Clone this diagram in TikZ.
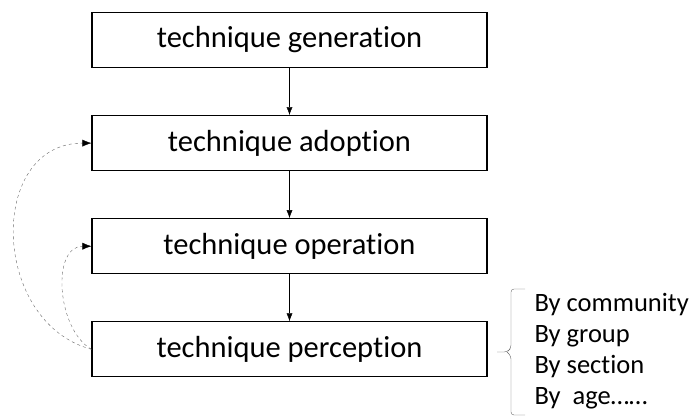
\documentclass[tikz,border=0pt]{standalone}
\usepackage{fontspec}
\setmainfont[Ligatures=NoCommon]{Carlito}
\usetikzlibrary{positioning,arrows.meta}
\tikzset{stagebox/.style={draw,line width=1.1pt,minimum width=395pt,minimum height=55pt,font=\fontsize{30.5}{33}\selectfont},
         flow/.style={-{Latex[length=8pt,width=6pt]},thin},
         feedback/.style={-{Latex[length=9pt,width=7pt,black]},dashed,gray!80!black,thin},
         bracket/.style={gray!80!black,thin,rounded corners=3pt}}

\begin{document}
\begin{tikzpicture}[x=1pt,y=1pt,node distance=47pt]
    \useasboundingbox (0,0) rectangle (692,-416);
    \node[stagebox] (gen) at (289.5,-40) {technique generation};
    \node[stagebox,below=of gen] (adopt) {technique adoption};
    \node[stagebox,below=of adopt] (oper) {technique operation};
    \node[stagebox,below=of oper] (perc) {technique perception};

    \draw[flow] (gen) -- (adopt);
    \draw[flow] (adopt) -- (oper);
    \draw[flow] (oper) -- (perc);

    % feedback loops
    \draw[feedback] (perc.west) to[out=165,in=180,looseness=1.3] (adopt.west);
    \draw[feedback] (perc.west) to[out=150,in=180,looseness=1.0] (oper.west);

    % grouping list
    \node[anchor=west,align=left,font=\fontsize{26.5}{31}\selectfont] (groups) at (531,-351.5)
        {By community\\By group\\By section\\By\ \ age……};
    \coordinate (bracetop) at (525,-289);
    \coordinate (bracebot) at (525,-415);
    \coordinate (bracetip) at (497,-352);
    \draw[bracket] (bracetop) -- (511,-289) -- (511,-348) -- (507,-352) -- (bracetip);
    \draw[bracket] (bracebot) -- (511,-415) -- (511,-356) -- (507,-352);
\end{tikzpicture}
\end{document}
